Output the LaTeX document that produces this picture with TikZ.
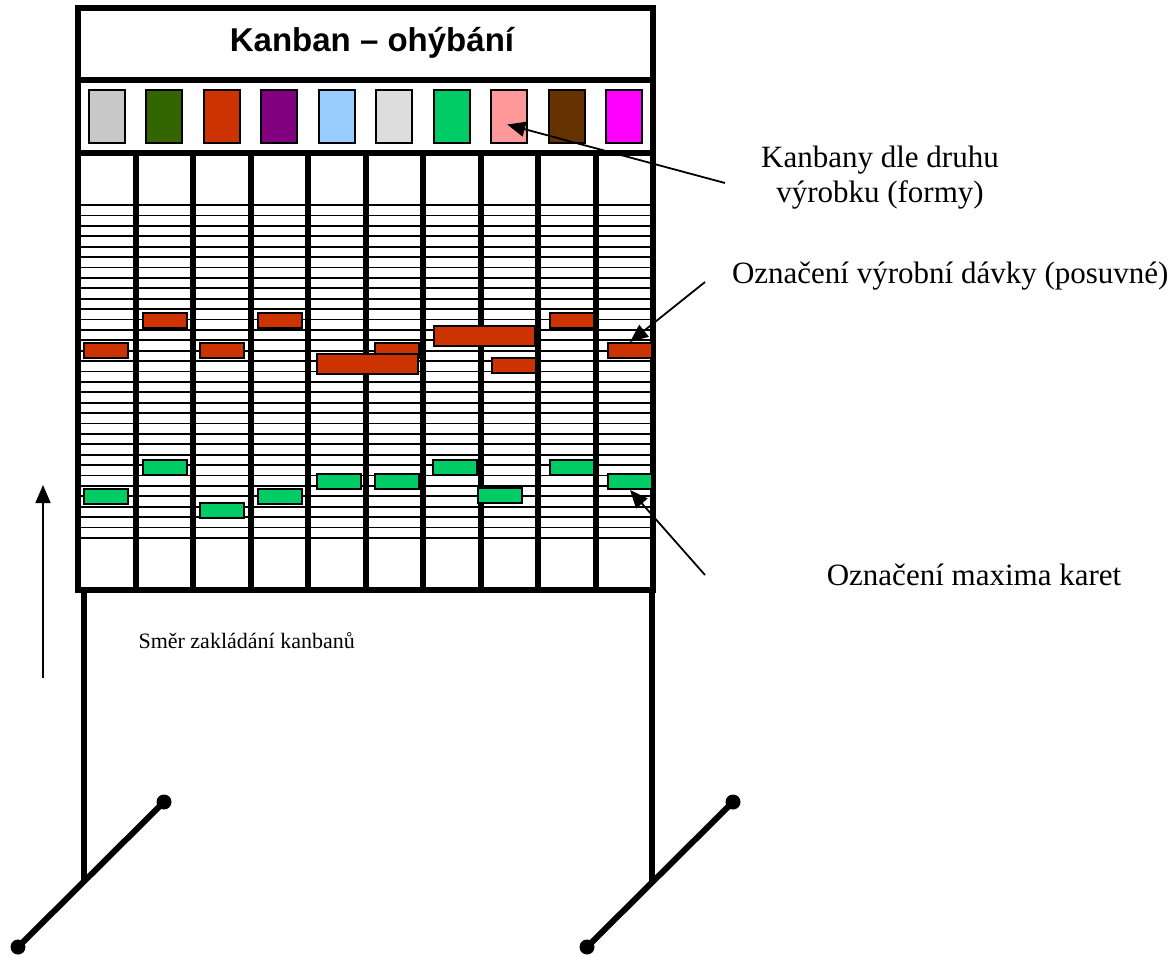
\documentclass[tikz,border=0pt]{standalone}
\usepackage{fontspec}
\setmainfont{Liberation Serif}
\newfontfamily\titlefont{Liberation Sans}
\usepackage{tikz}
\usetikzlibrary{arrows.meta,calc}
\definecolor{kgray}{HTML}{C8C8C8}
\definecolor{kolive}{HTML}{336600}
\definecolor{kred}{HTML}{CC3300}
\definecolor{kpurple}{HTML}{800080}
\definecolor{kblue}{HTML}{99CCFF}
\definecolor{klight}{HTML}{DDDDDD}
\definecolor{kgreen}{HTML}{00CC66}
\definecolor{kpink}{HTML}{FF9999}
\definecolor{kbrown}{HTML}{663300}
\definecolor{kmagenta}{HTML}{FF00FF}
\definecolor{batch}{HTML}{CC3300}
\definecolor{maxmark}{HTML}{00CC66}

\begin{document}
\begin{tikzpicture}[
  x=1pt, y=-1pt,
  frame/.style={line width=6pt},
  rail/.style={line width=1.8pt},
  card/.style={draw, line width=2pt, inner sep=0pt, minimum width=36pt, minimum height=53pt},
  batchbar/.style={draw, line width=2pt, fill=batch, inner sep=0pt, minimum width=44pt, minimum height=15pt},
  maxbar/.style={draw, line width=2pt, fill=maxmark, inner sep=0pt, minimum width=44pt, minimum height=15pt},
  widebar/.style={minimum width=101pt, minimum height=20pt},
  note/.style={font=\fontsize{31}{35}\selectfont, align=center},
  pointer/.style={-{Triangle[length=18pt,width=15pt]}, line width=1.8pt},
  leg/.style={line width=6pt},
  foot/.style={circle, fill, inner sep=0pt, minimum size=15pt}
]
  \useasboundingbox (0,0) rectangle (1176,958);

  % Rails for the cards
  \foreach \i in {0,...,32}
    \draw[rail] (78,{205+\i*10.406}) -- (653,{205+\i*10.406});

  % Board
  \foreach \i in {1,...,9}
    \draw[frame] ({78+57.5*\i},153) -- ({78+57.5*\i},590);
  \draw[frame] (78,8) rectangle (653,590);
  \draw[frame] (78,80) -- (653,80);
  \draw[frame] (78,153) -- (653,153);
  \node[font=\titlefont\bfseries\fontsize{33}{40}\selectfont] (title) at (372,43) {Kanban – ohýbání};

  % Kanbans by product
  \foreach \c [count=\i] in {kgray,kolive,kred,kpurple,kblue,klight,kgreen,kpink,kbrown,kmagenta}
    \node[card, fill=\c] (k\i) at ({78+57.5*(\i-0.5)},116.5) {};

  % Stand
  \draw[leg] (84,590) -- (84,882);
  \draw[leg] (652,590) -- (652,882);
  \node[foot] (footL1) at (18,947) {};
  \node[foot] (footL2) at (164,802) {};
  \node[foot] (footR1) at (587,947) {};
  \node[foot] (footR2) at (733,802) {};
  \draw[leg] (footL1.center) -- (footL2.center);
  \draw[leg] (footR1.center) -- (footR2.center);

  % Batch markers
  \node[batchbar] (r1) at (105.5,350.5) {};
  \node[batchbar] (r2) at (164.5,320.5) {};
  \node[batchbar] (r3) at (222,350.5) {};
  \node[batchbar] (r4) at (280,320.5) {};
  \node[batchbar] (r6) at (397,350.5) {};
  \node[batchbar, widebar] (r5) at (367.5,364) {};
  \node[batchbar, widebar] (r7) at (484,336) {};
  \node[batchbar] (r8) at (514,365) {};
  \node[batchbar] (r9) at (571.5,320.5) {};
  \node[batchbar] (r10) at (630,350.5) {};

  % Maximum markers
  \node[maxbar] (g1) at (105.5,496) {};
  \node[maxbar] (g2) at (164.5,467) {};
  \node[maxbar] (g3) at (222,510.5) {};
  \node[maxbar] (g4) at (280,496) {};
  \node[maxbar] (g5) at (339,481.5) {};
  \node[maxbar] (g6) at (397,481.5) {};
  \node[maxbar] (g7) at (455,467) {};
  \node[maxbar] (g8) at (500,495.5) {};
  \node[maxbar] (g9) at (571.5,467) {};
  \node[maxbar] (g10) at (630,481.5) {};

  % Labels
  \node[note] (lblKanbany) at (880,178) {Kanbany dle druhu\\výrobku (formy)};
  \node[note, anchor=east] (lblDavka) at (1172,276) {Označení výrobní dávky (posuvné)};
  \node[note] (lblMax) at (974,575) {Označení maxima karet};
  \node[font=\fontsize{22}{26}\selectfont, anchor=west] (lblSmer) at (135,641) {Směr zakládání kanbanů};

  % Pointers
  \coordinate (kanbanTail) at (725,183);
  \coordinate (batchTail) at (705,282);
  \coordinate (maxTail) at (705,575);
  \draw[pointer] (kanbanTail) -- ($(k8.center)+(-2,8)$);
  \draw[pointer] (batchTail) -- (r10.north);
  \draw[pointer] (maxTail) -- (g10.south);

  % Direction of filling
  \coordinate (dirStart) at (43,678);
  \coordinate (dirEnd) at (43,485);
  \draw[pointer] (dirStart) -- (dirEnd);
\end{tikzpicture}
\end{document}
